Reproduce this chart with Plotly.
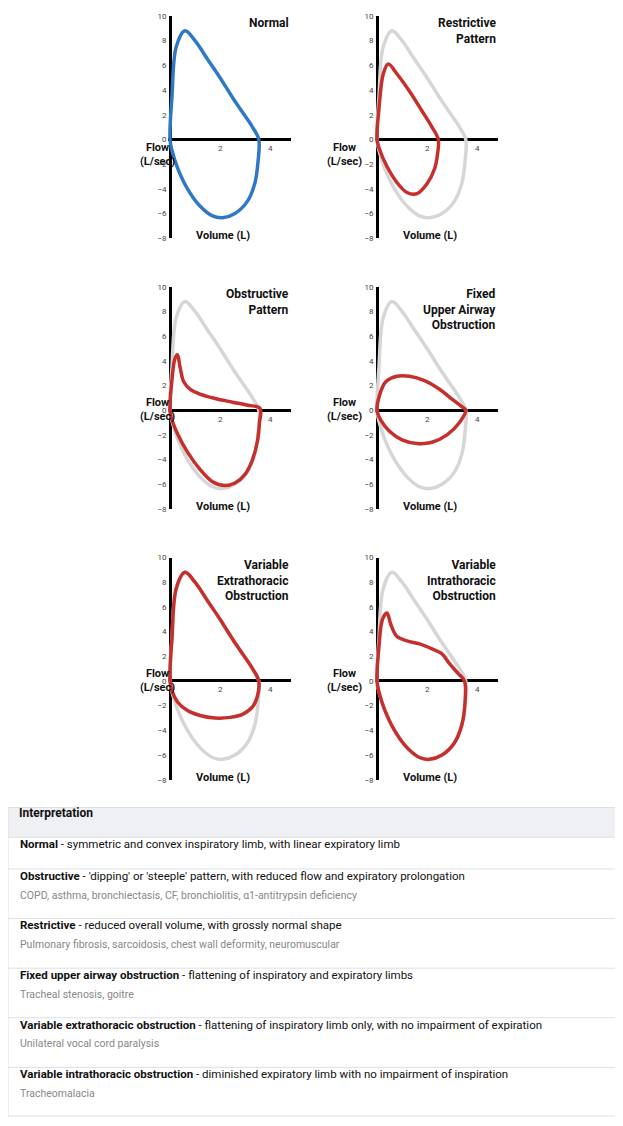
import plotly.graph_objects as go

# page body adds an 8px margin, so the figure is drawn 8px in from the window edge
OFF = 8
W, H = 623 - 2 * OFF, 1126 - 2 * OFF
px = lambda p: (p - OFF) / W
py = lambda p: 1 - (p - OFF) / H

# flow-volume loops: (volume, flow) points, expiration then inspiration
normal = {
    'x': [0, 0.08, 0.25, 0.6, 1.0, 1.5, 2.0, 2.5, 2.9, 3.3, 3.55, 3.52, 3.4, 3.1, 2.6, 2.1, 1.7, 1.2, 0.7, 0.3, 0.08, 0],
    'y': [0, 3.5, 7.5, 8.8, 8.0, 6.5, 5.0, 3.4, 2.2, 1.0, 0, -1.8, -3.5, -5.0, -6.0, -6.35, -6.2, -5.4, -4.0, -2.3, -0.9, 0],
}
patterns = [
    ('Normal', None),
    ('Restrictive<br>Pattern', {
        'x': [0, 0.08, 0.25, 0.45, 0.8, 1.3, 1.8, 2.2, 2.45, 2.42, 2.3, 2.0, 1.6, 1.2, 0.8, 0.4, 0.1, 0],
        'y': [0, 2.5, 5.3, 6.1, 5.3, 3.9, 2.3, 1.0, 0, -1.2, -2.4, -3.6, -4.4, -4.3, -3.5, -2.2, -0.8, 0]}),
    ('Obstructive<br>Pattern', {
        'x': [0, 0.08, 0.2, 0.3, 0.4, 0.55, 0.8, 1.2, 1.8, 2.5, 3.1, 3.6, 3.58, 3.5, 3.3, 3.0, 2.6, 2.2, 1.7, 1.2, 0.7, 0.3, 0.05, 0],
        'y': [0, 2.5, 4.2, 4.5, 3.5, 2.3, 1.7, 1.3, 0.95, 0.65, 0.4, 0.15, -1.0, -2.5, -4.0, -5.2, -5.9, -6.1, -5.8, -4.8, -3.4, -1.9, -0.6, 0]}),
    ('Fixed<br>Upper Airway<br>Obstruction', {
        'x': [0, 0.1, 0.35, 0.8, 1.3, 1.9, 2.5, 3.0, 3.35, 3.55, 3.3, 2.8, 2.2, 1.6, 1.0, 0.5, 0.15, 0],
        'y': [0, 1.2, 2.3, 2.75, 2.75, 2.4, 1.7, 0.9, 0.35, 0, -1.0, -2.0, -2.6, -2.7, -2.4, -1.7, -0.8, 0]}),
    ('Variable<br>Extrathoracic<br>Obstruction', {
        'x': normal['x'][:11] + [3.5, 3.3, 2.9, 2.4, 1.8, 1.2, 0.7, 0.3, 0.08, 0],
        'y': normal['y'][:11] + [-1.2, -2.1, -2.7, -2.95, -3.0, -2.8, -2.4, -1.7, -0.8, 0]}),
    ('Variable<br>Intrathoracic<br>Obstruction', {
        'x': [0, 0.08, 0.22, 0.4, 0.55, 0.8, 1.2, 1.7, 2.2, 2.6, 2.9, 3.25, 3.5] + normal['x'][11:],
        'y': [0, 2.8, 5.0, 5.5, 4.6, 3.6, 3.25, 3.0, 2.6, 2.2, 1.4, 0.6, 0] + normal['y'][11:]}),
]

blue, red, grey = '#2f78c4', '#c5302e', '#d6d6d6'
col_left = [167.5, 374.5]   # pixel x of domain start (range -0.1 .. 4.84, 25 px per L)
row_top = [12, 285, 558]    # pixel y of flow = 10

fig = go.Figure()
for i, (title, loop) in enumerate(patterns):
    r, c = divmod(i, 2)
    n = str(i + 1)
    xa, ya = 'x' + n, 'y' + n
    if loop is None:
        fig.add_trace(go.Scatter(x=normal['x'], y=normal['y'], mode='lines', line_shape='spline',
                                 line=dict(color=blue, width=3.5), xaxis=xa, yaxis=ya, hoverinfo='skip'))
    else:
        fig.add_trace(go.Scatter(x=normal['x'], y=normal['y'], mode='lines', line_shape='spline',
                                 line=dict(color=grey, width=3.5), xaxis=xa, yaxis=ya, hoverinfo='skip'))
        fig.add_trace(go.Scatter(x=loop['x'], y=loop['y'], mode='lines', line_shape='spline',
                                 line=dict(color=red, width=3.5), xaxis=xa, yaxis=ya, hoverinfo='skip'))
    fig.layout['xaxis' + ('' if i == 0 else n)] = dict(
        domain=[px(col_left[c]), px(col_left[c] + 4.94 * 25)], range=[-0.1, 4.84], anchor=ya,
        showgrid=False, showticklabels=False,
        zeroline=True, zerolinecolor='black', zerolinewidth=2.5, fixedrange=True)
    fig.layout['yaxis' + ('' if i == 0 else n)] = dict(
        domain=[py(row_top[r] + 224), py(row_top[r])], range=[-8, 10], anchor=xa, showgrid=False, zeroline=True,
        zerolinecolor='black', zerolinewidth=2.5, tickvals=list(range(-8, 11, 2)),
        tickfont=dict(size=8, color='#444'), ticks='', fixedrange=True)
    for v in (2, 4):
        fig.add_annotation(x=v, y=0, xref=xa, yref=ya, text=str(v), showarrow=False, yshift=-9,
                           font=dict(size=8, color='#444'))
    fig.add_annotation(x=4.84, y=10, xref=xa, yref=ya, text='<b>' + title + '</b>', showarrow=False,
                       xanchor='right', yanchor='top', align='right', yshift=2, font=dict(size=12, color='#111'))
    fig.add_annotation(x=px(col_left[c] - 30), y=py(row_top[r] + 124), xref='paper', yref='paper',
                       text='<b>Flow<br>(L/sec)</b>', showarrow=False,
                       font=dict(size=11, color='#111'))
    fig.add_annotation(x=2.1, y=-7.8, xref=xa, yref=ya, text='<b>Volume (L)</b>', showarrow=False,
                       font=dict(size=11, color='#111'))

# interpretation table
rows = [
    ('Normal', 'symmetric and convex inspiratory limb, with linear expiratory limb', ''),
    ('Obstructive', "'dipping' or 'steeple' pattern, with reduced flow and expiratory prolongation",
     'COPD, asthma, bronchiectasis, CF, bronchiolitis, α1-antitrypsin deficiency'),
    ('Restrictive', 'reduced overall volume, with grossly normal shape',
     'Pulmonary fibrosis, sarcoidosis, chest wall deformity, neuromuscular'),
    ('Fixed upper airway obstruction', 'flattening of inspiratory and expiratory limbs', 'Tracheal stenosis, goitre'),
    ('Variable extrathoracic obstruction', 'flattening of inspiratory limb only, with no impairment of expiration',
     'Unilateral vocal cord paralysis'),
    ('Variable intrathoracic obstruction', 'diminished expiratory limb with no impairment of inspiration', 'Tracheomalacia'),
]
shapes = [dict(type='rect', xref='paper', yref='paper', x0=px(8), x1=px(621), y0=py(1121), y1=py(810),
               line=dict(color='#dde0e4', width=1), fillcolor='white', layer='below'),
          dict(type='rect', xref='paper', yref='paper', x0=px(8), x1=px(621), y0=py(840), y1=py(810),
               line=dict(color='#dde0e4', width=1), fillcolor='#eef0f3', layer='below')]
fig.add_annotation(x=px(17), y=py(825), xref='paper', yref='paper', text='<b>Interpretation</b>', showarrow=False,
                   xanchor='left', font=dict(size=12, color='#111'))
edges = [840, 872, 922, 972, 1022, 1072, 1121]
for k, (name, desc, sub) in enumerate(rows):
    top, bot = edges[k], edges[k + 1]
    if k > 0:
        shapes.append(dict(type='line', xref='paper', yref='paper', x0=px(8), x1=px(621), y0=py(top), y1=py(top),
                           line=dict(color='#dde0e4', width=1)))
    yt = (top + bot) / 2 if not sub else top + 16
    fig.add_annotation(x=px(18), y=py(yt), xref='paper', yref='paper', text='<b>' + name + '</b> - ' + desc,
                       showarrow=False, xanchor='left', font=dict(size=11.5, color='#111'))
    if sub:
        fig.add_annotation(x=px(18), y=py(top + 35), xref='paper', yref='paper', text=sub,
                           showarrow=False, xanchor='left', font=dict(size=10.5, color='#888'))

fig.update_layout(width=W, height=H, margin=dict(l=0, r=0, t=0, b=0), showlegend=False,
                  plot_bgcolor='white', paper_bgcolor='white', shapes=shapes,
                  font=dict(family='Roboto'))
fig.write_html("out.html")
